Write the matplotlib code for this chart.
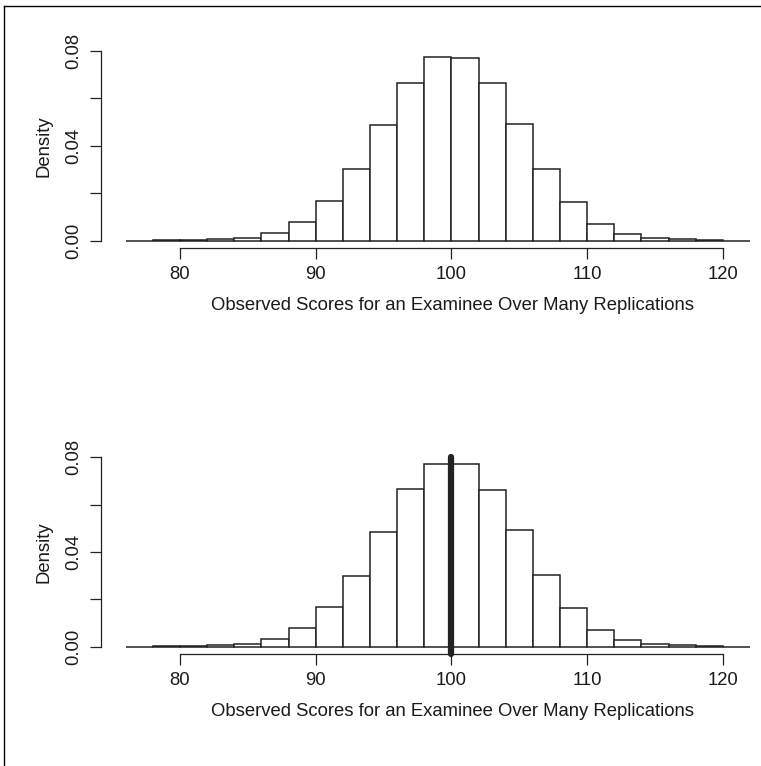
import matplotlib
matplotlib.use("Agg")
import matplotlib.pyplot as plt
from matplotlib.lines import Line2D

plt.rcParams['font.family'] = ['Liberation Sans', 'DejaVu Sans']

# histogram bins (width 2) and densities
bin_edges = list(range(76, 124, 2))
density = [0.0000, 0.0001, 0.0003, 0.0006, 0.0013, 0.0031, 0.0077, 0.0166,
           0.0300, 0.0486, 0.0666, 0.0772, 0.0770, 0.0662, 0.0493, 0.0301,
           0.0164, 0.0070, 0.0030, 0.0011, 0.0006, 0.0003, 0.0000]
x_ticks = [80, 90, 100, 110, 120]
y_ticks = [0.00, 0.02, 0.04, 0.06, 0.08]
y_labels = ['0.00', '', '0.04', '', '0.08']
true_score = 100
xlab = 'Observed Scores for an Examinee Over Many Replications'

W, H = 761, 766
fig = plt.figure(figsize=(W / 100, H / 100), dpi=100)

FS = 13.3
ink = '#1a1a1a'


def panel(top_px, bottom_px, show_line):
    left = 100.7 / W
    width = 674.2 / W
    ax = fig.add_axes([left, 1 - bottom_px / H, width, (bottom_px - top_px) / H])
    ax.bar(bin_edges[:-1], density, width=2, align='edge', color='white',
           edgecolor='#222222', linewidth=1.1)
    if show_line:
        ax.plot([true_score, true_score], [-0.0032, 0.08], color='#222222',
                lw=4.5, solid_capstyle='round', zorder=5, clip_on=False)
    ax.set_xlim(74.16, 123.84)
    ax.set_ylim(-0.0032, 0.0832)
    for s in ['top', 'right']:
        ax.spines[s].set_visible(False)
    ax.spines['bottom'].set_bounds(80, 120)
    ax.spines['left'].set_bounds(0, 0.08)
    for s in ['bottom', 'left']:
        ax.spines[s].set_linewidth(0.9)
        ax.spines[s].set_color('#222222')
    ax.set_xticks(x_ticks)
    ax.set_xticklabels([str(t) for t in x_ticks], fontsize=FS, color=ink)
    ax.set_yticks(y_ticks)
    ax.set_yticklabels(y_labels, fontsize=FS, color=ink, rotation=90, va='center')
    ax.tick_params(length=8, width=0.9, color='#222222', pad=5)
    ax.set_xlabel(xlab, fontsize=FS, color=ink)
    ax.xaxis.set_label_coords((452 - 100.7) / 674.2, -0.237)
    ax.set_ylabel('Density', fontsize=FS, color=ink)
    ax.yaxis.set_label_coords(-0.072, 0.5)
    ax.patch.set_alpha(0)
    return ax


panel(43.1, 248.3, False)
panel(449.7, 654.3, True)

# frame lines at the top and left edge
fig.add_artist(Line2D([4 / W, 1], [1 - 6 / H, 1 - 6 / H], color='black', lw=1.0))
fig.add_artist(Line2D([4 / W, 4 / W], [0, 1 - 6 / H], color='black', lw=1.0))

fig.savefig('out.png', dpi=100, facecolor='white')
